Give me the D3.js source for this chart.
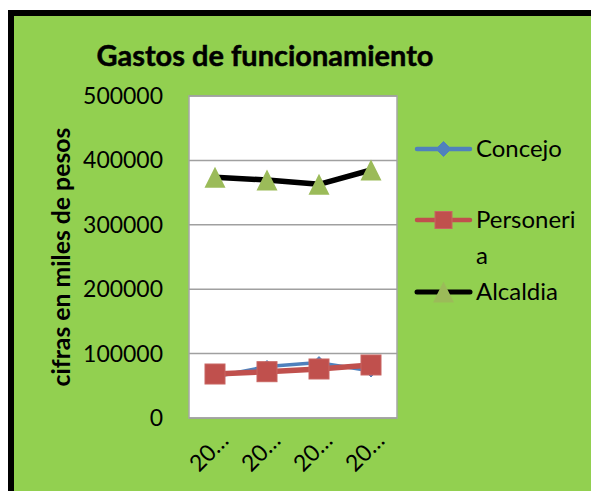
<!DOCTYPE html>
<html><head><meta charset="utf-8">
<script src="https://cdn.jsdelivr.net/npm/d3@7"></script>
<style>html,body{margin:0;padding:0;background:#fff;overflow:hidden}</style>
</head><body>
<svg id="c" width="591" height="491"></svg>
<script>
const categories = ["20…", "20…", "20…", "20…"];
const seriesNames = ["Concejo", "Personeria", "Alcaldia"];
const concejo = [64000, 80000, 86000, 73000];
const personeria = [68300, 71900, 76100, 82300];
const alcaldia = [373900, 369600, 362900, 385100];
const yTicks = [0, 100000, 200000, 300000, 400000, 500000];
const title = "Gastos de funcionamiento";
const yTitle = "cifras en miles de pesos";

const FONT = "Lato, 'Open Sans', sans-serif";
const svg = d3.select("#c");
svg.append("rect").attr("x", 11).attr("y", 13).attr("width", 700).attr("height", 600)
  .attr("fill", "#92D050").attr("stroke", "#000").attr("stroke-width", 6);

const P = {l: 189, t: 96, r: 397, b: 418};
const x = d3.scaleBand().domain(d3.range(categories.length)).range([P.l, P.r]);
const y = d3.scaleLinear().domain([0, 500000]).range([P.b, P.t]);

function fit(sel, target) {
  const fs = parseFloat(sel.attr("font-size"));
  const w = sel.node().getComputedTextLength();
  sel.attr("font-size", fs * target / w);
}

// plot area
svg.append("rect").attr("x", P.l).attr("y", P.t).attr("width", P.r - P.l).attr("height", P.b - P.t)
  .attr("fill", "#fff").attr("stroke", "#a6a6a6").attr("stroke-width", 1.5);
svg.append("g").selectAll("line").data(yTicks).join("line")
  .attr("x1", P.l).attr("x2", P.r).attr("y1", d => y(d)).attr("y2", d => y(d))
  .attr("stroke", "#a0a0a0").attr("stroke-width", 1.5);

// title
const t = svg.append("text").attr("x", 265).attr("y", 66).attr("text-anchor", "middle")
  .attr("font-family", FONT).attr("font-weight", "bold").attr("font-size", 28)
  .attr("stroke", "#000").attr("stroke-width", 0.5).text(title);
fit(t, 337);

// y ticks
const yl = svg.append("g").selectAll("text").data(yTicks).join("text")
  .attr("x", 163).attr("y", d => y(d)).attr("dy", "0.35em").attr("text-anchor", "end")
  .attr("font-family", FONT).attr("font-size", 22).attr("fill", "#000")
  .text(d => d3.format("d")(d));
{
  const n = yl.filter(d => d === 400000).node();
  const w = n.getComputedTextLength();
  yl.attr("font-size", 22 * 80 / w);
}

// y title
const yt = svg.append("text").attr("transform", "translate(70,257) rotate(-90)")
  .attr("text-anchor", "middle").attr("font-family", FONT).attr("font-weight", "bold")
  .attr("font-size", 20).text(yTitle);
fit(yt, 259);

// x labels
const xl = svg.append("g").selectAll("text").data(categories).join("text")
  .attr("transform", (d, i) => `translate(${x(i) + x.bandwidth() / 2 + 15},442) rotate(-45)`)
  .attr("text-anchor", "end").attr("font-family", FONT).attr("font-size", yl.attr("font-size"))
  .text(d => d);

// lines
const cx = i => x(i) + x.bandwidth() / 2;
const line = d3.line().x((d, i) => cx(i)).y(d => y(d));
const data = [
  {name: seriesNames[0], vals: concejo, color: "#4F81BD", w: 3.5, lw: 4.5, marker: "diamond", ms: 6, lms: 7.5},
  {name: seriesNames[1], vals: personeria, color: "#C0504D", w: 5.5, lw: 4.5, marker: "square", ms: 10, lms: 8.5},
  {name: seriesNames[2], vals: alcaldia, color: "#000", w: 5.5, lw: 5, marker: "triangle", ms: 10.5, lms: 10.5}
];
function marker(g, type, px, py, s) {
  if (type === "diamond") {
    g.append("path").attr("d", `M${px},${py - s}L${px + s},${py}L${px},${py + s}L${px - s},${py}Z`)
      .attr("fill", "#4F81BD").attr("stroke", "#4F81BD");
  } else if (type === "square") {
    g.append("rect").attr("x", px - s).attr("y", py - s).attr("width", 2 * s).attr("height", 2 * s)
      .attr("fill", "#C0504D").attr("stroke", "#C86562").attr("stroke-width", 1);
  } else {
    g.append("path").attr("d", `M${px},${py - s}L${px + s},${py + s}L${px - s},${py + s}Z`)
      .attr("fill", "#9BBB59");
  }
}
data.forEach(s => {
  const g = svg.append("g");
  g.append("path").attr("d", line(s.vals)).attr("fill", "none").attr("stroke", s.color)
    .attr("stroke-width", s.w).attr("stroke-linejoin", "round");
  s.vals.forEach((v, i) => marker(g, s.marker, cx(i), y(v), s.ms));
});

// legend
const leg = [
  {s: data[0], ly: 149, lines: ["Concejo"]},
  {s: data[1], ly: 220, lines: ["Personeri", "a"]},
  {s: data[2], ly: 292, lines: ["Alcaldia"]}
];
let lfs = 22;
leg.forEach((L, k) => {
  const g = svg.append("g");
  g.append("line").attr("x1", 417).attr("x2", 470).attr("y1", L.ly).attr("y2", L.ly)
    .attr("stroke", L.s.color).attr("stroke-width", L.s.lw).attr("stroke-linecap", "round");
  marker(g, L.s.marker, 443.5, L.ly, L.s.lms);
  L.lines.forEach((txt, j) => {
    const tt = g.append("text").attr("x", 476).attr("y", L.ly + j * 36).attr("dy", "0.35em")
      .attr("font-family", FONT).attr("font-size", lfs).text(txt);
    if (k === 0) { fit(tt, 86); lfs = parseFloat(tt.attr("font-size")); }
  });
});
</script>
</body></html>
